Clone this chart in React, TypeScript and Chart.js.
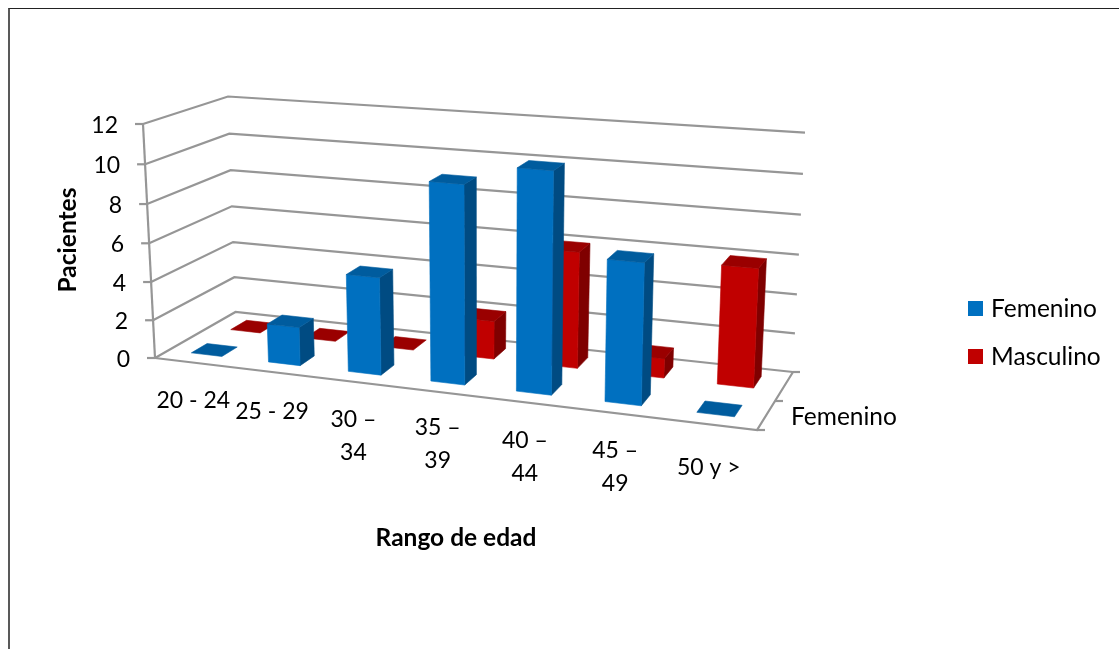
import { useEffect, useRef } from "react";
import { Chart, registerables } from "chart.js";

Chart.register(...registerables);

const categories = [
  "20 - 24",
  "25 - 29",
  ["30 –", "34"],
  ["35 –", "39"],
  ["40 –", "44"],
  ["45 –", "49"],
  "50 y >",
];
const femenino = [0, 2, 5, 10, 11, 7, 0];
const masculino = [0, 0, 0, 2, 6, 1, 6];
const yTicks = { min: 0, max: 12, stepSize: 2 };

const FONT = "Lato, 'Open Sans', sans-serif";
const GRID = "#969696";

// Eight corners of the plot box on the page: floor (w=0) and ceiling (w=1).
type Pt = [number, number];
const box: Record<string, Pt> = {
  fl0: [155, 358], fr0: [757, 430], bl0: [235.5, 312], br0: [793, 372],
  fl1: [143, 124], fr1: [766, 173], bl1: [228, 96.5], br1: [805, 132.7],
};
const lerp = (a: number, b: number, t: number) => a + (b - a) * t;

// Foreshortening along the category axis: bars grow towards the right.
const warp = (t: number) => t / (1 + 0.13 * (1 - t));
// Foreshortening along the value axis.
const warpValue = (w: number) => w / (1 + 0.04 * (1 - w));

// Distance from the floor edge down to each category label.
const labelDrop = [38, 40, 38, 36, 38, 38, 43];

function project(u: number, v: number, w: number): Pt {
  const h = warpValue(w);
  const at = (i: 0 | 1) => {
    const fb = lerp(lerp(box.fl0[i], box.fr0[i], u), lerp(box.bl0[i], box.br0[i], u), v);
    const ft = lerp(lerp(box.fl1[i], box.fr1[i], u), lerp(box.bl1[i], box.br1[i], u), v);
    return lerp(fb, ft, h);
  };
  return [at(0), at(1)];
}

function poly(ctx: CanvasRenderingContext2D, pts: Pt[], fill: string) {
  ctx.beginPath();
  pts.forEach((p, i) => (i ? ctx.lineTo(p[0], p[1]) : ctx.moveTo(p[0], p[1])));
  ctx.closePath();
  ctx.fillStyle = fill;
  ctx.strokeStyle = fill;
  ctx.lineWidth = 0.6;
  ctx.fill();
  ctx.stroke();
}

function line(ctx: CanvasRenderingContext2D, pts: Pt[]) {
  ctx.beginPath();
  pts.forEach((p, i) => (i ? ctx.lineTo(p[0], p[1]) : ctx.moveTo(p[0], p[1])));
  ctx.strokeStyle = GRID;
  ctx.lineWidth = 2.2;
  ctx.lineJoin = "miter";
  ctx.stroke();
}

// Depth slot of each series along the floor, with its three face colours.
const rows = [
  { dataset: 1, v0: 0.67, v1: 0.87, front: "#C00000", top: "#9A0000", side: "#7F0000" },
  { dataset: 0, v0: 0.17, v1: 0.37, front: "#0070C0", top: "#005C9E", side: "#004B82" },
];

const perspectiveBars = {
  id: "perspectiveBars",
  beforeDatasetsDraw(chart: any) {
    const { ctx, chartArea: a, scales } = chart;
    const xs = scales.x;
    const ys = scales.y;
    const toU = (px: number) => warp((px - a.left) / (a.right - a.left));
    const toW = (val: number) =>
      (ys.getPixelForValue(0) - ys.getPixelForValue(val)) /
      (ys.getPixelForValue(0) - ys.getPixelForValue(yTicks.max));

    ctx.save();

    // Walls: each gridline runs along the left wall and then the back wall.
    ys.ticks.forEach((t: any) => {
      const w = toW(t.value);
      const f = project(0, 0, w);
      line(ctx, [f, project(0, 1, w), project(1, 1, w)]);
      line(ctx, [[f[0] - 8, f[1]], f]);
      ctx.fillStyle = "#000";
      ctx.font = `23px ${FONT}`;
      ctx.textAlign = "right";
      ctx.textBaseline = "middle";
      ctx.fillText(String(t.value), f[0] - 25, f[1] + 1.5);
    });
    line(ctx, [project(0, 0, 1), project(0, 0, 0)]);

    // Floor outline with the depth axis ticks.
    const fr = project(1, 0, 0);
    const br = project(1, 1, 0);
    line(ctx, [project(0, 0, 0), fr, br]);
    line(ctx, [fr, [fr[0] + 8, fr[1]]]);
    line(ctx, [br, [br[0] + 7, br[1]]]);
    const mid = project(1, 0.5, 0);
    line(ctx, [mid, [mid[0] + 8, mid[1]]]);

    // Bars, rear series first so the front series covers it.
    rows.forEach((r) => {
      const meta = chart.getDatasetMeta(r.dataset);
      meta.data.forEach((el: any) => {
        const p = el.getProps(["x", "y", "base", "width"], true);
        const u0 = toU(p.x - p.width / 2);
        const u1 = toU(p.x + p.width / 2);
        const w = (p.base - p.y) / (a.bottom - a.top);
        if (w > 0) {
          poly(ctx, [project(u1, r.v0, 0), project(u1, r.v1, 0), project(u1, r.v1, w), project(u1, r.v0, w)], r.side);
          poly(ctx, [project(u0, r.v0, 0), project(u1, r.v0, 0), project(u1, r.v0, w), project(u0, r.v0, w)], r.front);
        }
        poly(ctx, [project(u0, r.v0, w), project(u1, r.v0, w), project(u1, r.v1, w), project(u0, r.v1, w)], r.top);
      });
    });

    // Category labels hang below the sloping front edge of the floor.
    ctx.fillStyle = "#000";
    ctx.font = `23px ${FONT}`;
    ctx.textAlign = "center";
    ctx.textBaseline = "middle";
    categories.forEach((label, i) => {
      const px = xs.getPixelForValue(i);
      const f = project(toU(px), 0, 0);
      const lines = Array.isArray(label) ? label : [label];
      lines.forEach((s, k) => ctx.fillText(s, f[0], f[1] + labelDrop[i] + k * 33));
    });

    // Series name on the depth axis and the legend entries.
    ctx.font = `24.5px ${FONT}`;
    ctx.textAlign = "left";
    ctx.fillText(chart.data.datasets[0].label, 791, 417);
    chart.data.datasets.forEach((ds: any, i: number) => {
      const y = 308.5 + i * 48;
      ctx.fillStyle = ds.backgroundColor;
      ctx.fillRect(968, y - 7.5, 15, 15);
      ctx.fillStyle = "#000";
      ctx.fillText(ds.label, 991, y + 0.5);
    });

    // Axis titles.
    ctx.textAlign = "center";
    ctx.font = `bold 24.5px ${FONT}`;
    ctx.fillText("Rango de edad", 456, 538);
    ctx.translate(68, 240);
    ctx.rotate(-Math.PI / 2);
    ctx.fillText("Pacientes", 0, 0);

    ctx.restore();
    return false;
  },
};

export default function App() {
  const ref = useRef<HTMLCanvasElement>(null);
  useEffect(() => {
    document.body.style.overflow = "hidden";
    const chart = new Chart(ref.current!, {
      type: "bar",
      data: {
        labels: categories as any,
        datasets: [
          { label: "Femenino", data: femenino, backgroundColor: "#0070C0", borderWidth: 0 },
          { label: "Masculino", data: masculino, backgroundColor: "#C00000", borderWidth: 0 },
        ],
      },
      options: {
        responsive: false,
        animation: false,
        datasets: { bar: { grouped: false, barPercentage: 0.4, categoryPercentage: 1 } },
        scales: {
          x: { display: false },
          y: { display: false, min: yTicks.min, max: yTicks.max, ticks: { stepSize: yTicks.stepSize } },
        },
        plugins: {
          tooltip: { enabled: false },
          legend: { display: false },
        },
      } as any,
      plugins: [perspectiveBars],
    });
    return () => chart.destroy();
  }, []);

  return (
    <>
      <div
        style={{
          position: "fixed",
          left: 8,
          top: 8,
          right: 0,
          bottom: 0,
          borderLeft: "2px solid #595959",
          borderTop: "1px solid #222",
        }}
      />
      <canvas
        ref={ref}
        width={1119}
        height={649}
        style={{ position: "fixed", left: 0, top: 0, display: "block" }}
      />
    </>
  );
}
